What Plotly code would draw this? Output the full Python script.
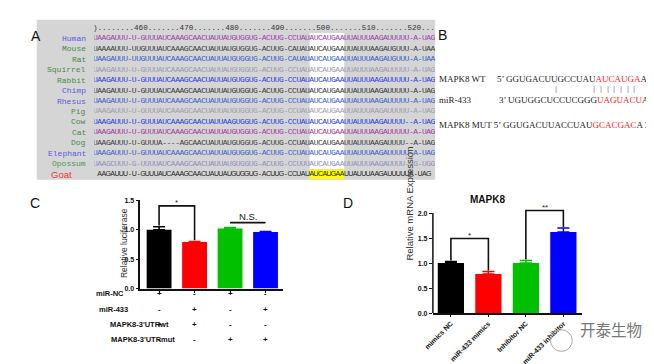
import plotly.graph_objects as go

W, H = 654, 364
def px(x): return x / W
def py(y): return 1 - y / H

# ---------------- Panel A data ----------------
species = ["Human", "Mouse", "Rat", "Squirrel", "Rabbit", "Chimp", "Rhesus",
           "Pig", "Cow", "Cat", "Dog", "Elephant", "Opossum", "Goat"]
seq_upstream = [
    "UAAGAUUU-U-GUUUAUCAAAGCAACUAUUAUGUGGUG-ACUUG-CCUAU",
    "UAAAAUUU-UUGUUUAUCAAAGCAACUAUUAUGUGGUG-ACUUG-CAUAU",
    "UAAGAUUU-UUGUUUAUCAAAGCAACUAUUAUGUGGUG-ACUUG-CAUAU",
    "UAAGAUUU-U-GUUUAUCAAAGCAACUAUUAUGUGGUG-ACUUG-CCUAU",
    "UAAGAUUU-U-GUUUAUCAAAGCAACUAUUAUGUGGUG-ACUUG-CCUAU",
    "UAAGAUUU-U-GUUUAUCAAAGCAACUAUUAUGUGGUG-ACUUG-CCUAU",
    "UAAGAUUU-U-GUUUAUCAAAGCAACUAUUAUGUGGUG-ACUUG-CCUAU",
    "UAAGAUUU-U-GUUUAUCAAAGCAACUAUUAUGUGGUG-ACUUG-CCUAU",
    "UAAGAUUU-U-GUUUAUCAAAGCAACUAUUAAGUGGUG-ACUUG-CCUAU",
    "UAAGAUUU-U-GUUUAUCAAAGCAACUAUUAUGUGGUG-ACUUG-CCUAU",
    "UAAGAUUU-U-GUUUA----AGCAACUAUUAUGUGGUG-ACUUG-CCUAU",
    "UAAGAUUU-U-GUUUAUCAAAGCAACUAUUAUGUGGUG-ACUUG-CCUAU",
    "UAAGCUUU-G-UUUUAUCAAAGCAACUAUUAUGUGGUG-ACUUG-CCUUU",
    " AAGAUUU-U-GUUUAUCAAAGCAACUAUUAUGUGGUG-ACUUG-CCUAU",
]
seed_site = "AUCAUGAA"
seq_downstream = [
    "UUAUUUAAGAUUUUU-A-UAG",
    "UUAUUUAAGAUGUUU-A-UAA",
    "UUAUUUAAGAUGUUU-A-UAA",
    "UUAUUUAAGAUUUUU-A-UAG",
    "UUAUUUAAGAUUUUU-A-UAG",
    "UUAUUUAAGAUUUUU-A-UAG",
    "UUAUUUAAGAUUUUU-A-UAG",
    "UUAUUUAAGAUUUUU-A-UAG",
    "UUAUUUAAGAUUUU--A-UAG",
    "UUAUUUAAGAUUUUU-A-UAG",
    "UUAUUUAAGAUUUU--A-UAG",
    "UUAUUUAAGAUUUUU-A-UAG",
    "UUAUUUAAGAUUUU--G-UGG",
    "UUAUUUAAGAUUUUUA-UAG",
]
name_colors = ["#5a5ae0", "#4a8a4a", "#4a8a4a", "#4a8a4a", "#4a8a4a", "#5a5ae0", "#5a5ae0",
               "#4a8a4a", "#4a8a4a", "#4a8a4a", "#4a8a4a", "#5a5ae0", "#4a9a4a", "#e83a3a"]
seq_colors = ["#a040b0", "#404040", "#3a5fc8", "#9a9ab4", "#3040e0", "#383838", "#4060d0",
              "#a0a0b0", "#2a40e0", "#a03aa0", "#404040", "#3a60d0", "#9090c0", "#222222"]
ruler_labels = ["460", "470", "480", "490", "500", "510", "520"]

# ---------------- Panel B data ----------------
b_rows = [
    ("MAPK8 WT", "5\u2019 GGUGACUUGCCUAU", "AUCAUGA", "A 3\u2019"),
    ("miR-433", "3\u2019 UGUGGCUCCUCGGG", "UAGUACU", "A 5\u2019"),
    ("MAPK8 MUT", "5\u2019 GGUGACUUACCUAU", "GCACGAC", "A 3\u2019"),
]

# ---------------- Panel C data ----------------
c_values = [1.0, 0.79, 1.02, 0.96]
c_errors = [0.05, 0.01, 0.02, 0.01]
bar_colors = ["#000000", "#ff0000", "#00c000", "#0000ff"]
c_table_labels = ["miR-NC", "miR-433", "MAPK8-3'UTRwt", "MAPK8-3'UTRmut"]
c_table_signs = [["+", "-", "+", "-"],
                 ["-", "+", "-", "+"],
                 ["+", "+", "-", "-"],
                 ["-", "-", "+", "+"]]
c_sig = [(0, 1, 1.405, "*", True), (2, 3, 1.12, "N.S.", False)]

# ---------------- Panel D data ----------------
d_categories = ["mimics NC", "miR-433 mimics", "Inhibitor NC", "miR-433 inhibitor"]
d_values = [1.0, 0.78, 1.0, 1.62]
d_errors = [0.03, 0.05, 0.05, 0.08]
d_sig = [(0, 1, 1.49, "*", True), (2, 3, 2.05, "**", True)]

fig = go.Figure()
shapes = []
ann = []

# ===== Panel A =====
ncol = len(seq_upstream[0]) + len(seed_site) + len(seq_downstream[0])
site_start = len(seq_upstream[0])
shapes.append(dict(type="rect", xref="paper", yref="paper", x0=px(20), x1=px(424),
                   y0=py(171), y1=py(8), fillcolor="#d5d5d5", line_width=0, layer="below"))
shapes.append(dict(type="rect", xref="x3", yref="y3", x0=site_start - 0.5,
                   x1=site_start + len(seed_site) - 0.5, y0=-0.5, y1=len(species) - 1.5,
                   fillcolor="#ffffff", line_width=0, layer="below"))
shapes.append(dict(type="rect", xref="x3", yref="y3", x0=site_start - 0.5,
                   x1=site_start + len(seed_site) - 0.5, y0=len(species) - 1.45, y1=len(species) - 0.55,
                   fillcolor="#ffff00", line_width=0, layer="below"))

xs, ys, ts, cs = [], [], [], []
for i in range(len(species) - 1):
    full = seq_upstream[i] + seed_site + seq_downstream[i]
    for j, ch in enumerate(full):
        xs.append(j); ys.append(i); ts.append(ch); cs.append(seq_colors[i])
fig.add_trace(go.Scatter(x=xs, y=ys, text=ts, mode="text", xaxis="x3", yaxis="y3",
                         textfont=dict(family="Liberation Mono", size=8, color=cs),
                         cliponaxis=True, hoverinfo="skip"))
gi = len(species) - 1
gfull = seq_upstream[gi] + seed_site + seq_downstream[gi]
gx = [j for j, ch in enumerate(gfull) if ch != " "]
gt = [ch for ch in gfull if ch != " "]
fig.add_trace(go.Scatter(x=gx, y=[gi] * len(gx), text=gt, mode="text", xaxis="x3", yaxis="y3",
                         textfont=dict(family="Liberation Sans", size=7, color=seq_colors[gi]),
                         cliponaxis=True, hoverinfo="skip"))

for i, name in enumerate(species):
    if name == "Goat":
        ann.append(dict(text=name, xref="paper", yref="y3", x=px(58), y=i, xanchor="right",
                        showarrow=False, font=dict(family="Liberation Sans", size=9.5, color=name_colors[i])))
    else:
        ann.append(dict(text=name, xref="paper", yref="y3", x=px(71.5), y=i, xanchor="right",
                        showarrow=False, font=dict(family="Liberation Mono", size=8, color=name_colors[i])))

ruler = ")" + "." * 8 + ("." * 7).join(ruler_labels) + "..."
ann.append(dict(text=ruler, xref="paper", yref="y3", x=px(75.5), y=-1, xanchor="left",
                showarrow=False, font=dict(family="Liberation Mono", size=7.6, color="#333333")))

# ===== Panel B =====
serif = "Liberation Serif, Times New Roman, serif"
b_y = [60.7, 82.7, 107.7]
b_seq_x = [485, 486.5, None]
for (lab, pre, red, post), yy, sx in zip(b_rows, b_y, b_seq_x):
    seq_html = f"{pre}<span style='color:#ff2020'>{red}</span>{post}"
    if sx is None:
        ann.append(dict(text=f"{lab} {seq_html}", xref="paper", yref="paper", x=px(426), y=py(yy),
                        xanchor="left", showarrow=False,
                        font=dict(family=serif, size=9, color="#222222")))
    else:
        ann.append(dict(text=lab, xref="paper", yref="paper", x=px(426), y=py(yy), xanchor="left",
                        showarrow=False, font=dict(family=serif, size=9, color="#222222")))
        ann.append(dict(text=seq_html, xref="paper", yref="paper", x=px(sx), y=py(yy),
                        xanchor="left", showarrow=False,
                        font=dict(family=serif, size=9, color="#222222")))
pair_x = [550] + [588.3 + k * 6.78 for k in range(7)]
for bx in pair_x:
    ann.append(dict(text="|", xref="paper", yref="paper", x=px(bx), y=py(71.5), showarrow=False,
                    font=dict(family="Liberation Sans", size=8, color="#888888")))

# ===== Panel C =====
for i, (v, e, c) in enumerate(zip(c_values, c_errors, bar_colors)):
    fig.add_trace(go.Bar(x=[i], y=[v], width=0.7, marker=dict(color=c, line_width=0),
                         error_y=dict(type="data", array=[e], arrayminus=[0], symmetric=False,
                                      color=c, thickness=1.5, width=6),
                         xaxis="x", yaxis="y", hoverinfo="skip"))
# ===== Panel D =====
for i, (v, e, c) in enumerate(zip(d_values, d_errors, bar_colors)):
    fig.add_trace(go.Bar(x=[i], y=[v], width=0.7, marker=dict(color=c, line_width=0),
                         error_y=dict(type="data", array=[e], arrayminus=[0], symmetric=False,
                                      color=c, thickness=1.5, width=6),
                         xaxis="x2", yaxis="y2", hoverinfo="skip"))

def add_sig(sigs, vals, errs, xa, ya, star_shift):
    for a, b, yv, lab, legs in sigs:
        if legs:
            x = [a, a, b, b]
            y = [vals[a] + errs[a] + 0.02, yv, yv, vals[b] + errs[b] + 0.02]
        else:
            x = [a, b]
            y = [yv, yv]
        fig.add_trace(go.Scatter(x=x, y=y, mode="lines", line=dict(color="#111111", width=1.6),
                                 xaxis=xa, yaxis=ya, cliponaxis=False, hoverinfo="skip"))
        is_star = lab.startswith("*")
        ann.append(dict(text=lab, xref=xa, yref=ya, x=(a + b) / 2, y=yv, yanchor="bottom",
                        yshift=star_shift if is_star else -1, showarrow=False,
                        font=dict(family="Liberation Sans", size=8 if is_star else 9.5,
                                  color="#222222")))

add_sig(c_sig, c_values, c_errors, "x", "y", -3)
add_sig(d_sig, d_values, d_errors, "x2", "y2", -3)

# C table
table_y = [294, 310, 325.5, 341]
label_cx = [78.5, 81, 92.5, 93]
for r, lab in enumerate(c_table_labels):
    ann.append(dict(text=lab, xref="paper", yref="paper", x=px(label_cx[r]), y=py(table_y[r]),
                    showarrow=False, font=dict(family="Liberation Sans", size=7.5, color="#111111",
                                               weight="bold")))
    for i, s in enumerate(c_table_signs[r]):
        ann.append(dict(text=s, xref="x", yref="paper", x=i, y=py(table_y[r]), showarrow=False,
                        font=dict(family="Liberation Sans", size=8, color="#111111", weight="bold")))

# axis titles
ann.append(dict(text="Relative luciferase", xref="paper", yref="paper", x=px(102), y=py(236),
                textangle=-90, showarrow=False,
                font=dict(family="Liberation Sans", size=8.5, color="#333333")))
ann.append(dict(text="Relative mRNA Expression", xref="paper", yref="paper", x=px(398), y=py(256),
                textangle=-90, showarrow=False,
                font=dict(family="Liberation Sans", size=9.5, color="#333333")))
ann.append(dict(text="MAPK8", xref="paper", yref="paper", x=px(497), y=py(191), showarrow=False,
                font=dict(family="Liberation Sans", size=10, color="#111111", weight="bold")))

for letter, lx, ly in [("A", 12, 14), ("B", 431, 13), ("C", 11, 195), ("D", 336, 195)]:
    ann.append(dict(text=letter, xref="paper", yref="paper", x=px(lx), y=py(ly), showarrow=False,
                    font=dict(family="Liberation Sans", size=14, color="#111111")))

# watermark
shapes.append(dict(type="circle", xref="paper", yref="paper", x0=px(541), x1=px(563),
                   y0=py(346), y1=py(324), line=dict(color="#aaaaaa", width=1)))
ann.append(dict(text="开泰生物", xref="paper", yref="paper", x=px(569), y=py(336), xanchor="left",
                showarrow=False, font=dict(family="Noto Sans CJK SC", size=15.5, color="#777777")))

shapes.append(dict(type="line", xref="x2 domain", yref="y2", x0=0, x1=0, y0=0, y1=2.0,
                   line=dict(color="#111111", width=1.5)))

tickfont_b = dict(family="Liberation Sans", size=7, color="#111111", weight="bold")
d_top_px = 307 - 2.3 * 51

fig.update_layout(
    width=W, height=H, margin=dict(l=0, r=0, t=0, b=0),
    paper_bgcolor="white", plot_bgcolor="rgba(0,0,0,0)", showlegend=False,
    barmode="overlay",
    xaxis=dict(domain=[px(125), px(270)], range=[-0.53, 3.5], anchor="y", showline=True,
               linecolor="#111111", linewidth=1.5, ticks="outside", ticklen=3, tickwidth=1.2,
               tickcolor="#111111", tickvals=[0, 1, 2, 3], showticklabels=False,
               showgrid=False, zeroline=False),
    yaxis=dict(domain=[py(282), py(192)], range=[0, 1.5], anchor="x", showline=True,
               linecolor="#111111", linewidth=1.5, ticks="outside", ticklen=3, tickwidth=1.2,
               tickcolor="#111111", tickvals=[0, 0.5, 1.0, 1.5],
               ticktext=["0.0", "0.5", "1.0", "1.5"], tickfont=tickfont_b,
               showgrid=False, zeroline=False),
    xaxis2=dict(domain=[px(421.7), px(573)], range=[-0.48, 3.5], anchor="y2", showline=True,
                linecolor="#111111", linewidth=1.5, ticks="outside", ticklen=2, tickwidth=1.2,
                tickcolor="#111111", tickvals=[0, 1, 2, 3], ticktext=d_categories, tickangle=-45,
                tickfont=dict(family="Liberation Sans", size=7, color="#111111", weight="bold"),
                showgrid=False, zeroline=False),
    yaxis2=dict(domain=[py(307), py(d_top_px)], range=[0, 2.3], anchor="x2", showline=False,
                ticks="outside", ticklen=3, tickwidth=1.2, tickcolor="#111111",
                tickvals=[0, 0.5, 1.0, 1.5, 2.0], ticktext=["0.0", "0.5", "1.0", "1.5", "2.0"],
                tickfont=tickfont_b, showgrid=False, zeroline=False),
    xaxis3=dict(domain=[px(78.3), px(424)], range=[-0.25, ncol - 0.5], anchor="y3",
                visible=False, showgrid=False, zeroline=False),
    yaxis3=dict(domain=[py(170.8), py(10.7)], range=[len(species) - 0.5, -1.5], anchor="x3",
                visible=False, showgrid=False, zeroline=False),
    shapes=shapes, annotations=ann,
)

fig.write_html("out.html")
